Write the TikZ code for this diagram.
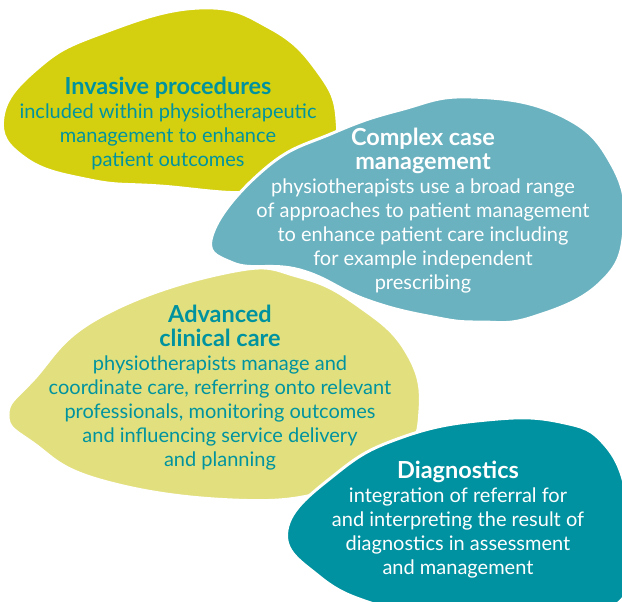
\documentclass[tikz,border=0pt]{standalone}
\usepackage{fontspec}
\setmainfont{Lato}
\usetikzlibrary{positioning}
\definecolor{limegreen}{RGB}{212,208,16}
\definecolor{paleteal}{RGB}{106,178,192}
\definecolor{paleyellow}{RGB}{226,224,126}
\definecolor{deepteal}{RGB}{0,146,160}
\definecolor{textteal}{RGB}{0,147,159}
\newcommand{\blobtitle}[1]{{\fontsize{17.6}{20}\selectfont\bfseries #1}}

\begin{document}
\begin{tikzpicture}[x=0.75pt,y=-0.75pt,
  blob/.style={draw=white, line width=2.2pt},
  blobtext/.style={align=center, inner sep=0pt, font=\fontsize{15}{18}\selectfont}]
  \useasboundingbox (0,0) rectangle (622,602);
  \clip (0,0) rectangle (622,602);

  % invasive procedures
  \filldraw[blob, fill=limegreen] plot[smooth cycle, tension=0.75] coordinates
    {(3,117) (38,68) (100,34) (200,8) (270,28) (318,72) (337,120) (325,172) (260,192) (160,186) (90,180) (25,158)};
  % complex case management
  \filldraw[blob, fill=paleteal] plot[smooth cycle, tension=0.75] coordinates
    {(213,233) (267,167) (333,133) (400,110) (470,97) (560,115) (612,165) (624,230) (600,283) (533,317) (480,322) (433,317) (367,300) (300,270) (233,263)};
  % advanced clinical care
  \filldraw[blob, fill=paleyellow] plot[smooth cycle, tension=0.75] coordinates
    {(8,415) (33,380) (100,317) (230,272) (300,277) (360,307) (407,353) (420,410) (400,457) (333,490) (233,500) (100,480) (33,443)};
  % diagnostics
  \filldraw[blob, fill=deepteal] plot[smooth cycle, tension=0.75] coordinates
    {(287,530) (337,473) (403,437) (487,420) (560,422) (605,445) (628,500) (630,560) (600,612) (450,620) (380,606) (320,577)};

  \node[blobtext, text=textteal] (invasive) at (168,123)
    {\blobtitle{Invasive procedures}\\ included within physiotherapeutic\\ management to enhance\\ patient outcomes};
  \node[blobtext, text=white] (complex) at (423,211)
    {\blobtitle{Complex case}\\ \blobtitle{management}\\ physiotherapists use a broad range\\ of approaches to patient management\\ to enhance patient care including\\ for example independent\\ prescribing};
  \node[blobtext, text=textteal] (advanced) at (220,388)
    {\blobtitle{Advanced}\\ \blobtitle{clinical care}\\ physiotherapists manage and\\ coordinate care, referring onto relevant\\ professionals, monitoring outcomes\\ and influencing service delivery\\ and planning};
  \node[blobtext, text=white] (diagnostics) at (458,520)
    {\blobtitle{Diagnostics}\\ integration of referral for\\ and interpreting the result of\\ diagnostics in assessment\\ and management};
\end{tikzpicture}
\end{document}
